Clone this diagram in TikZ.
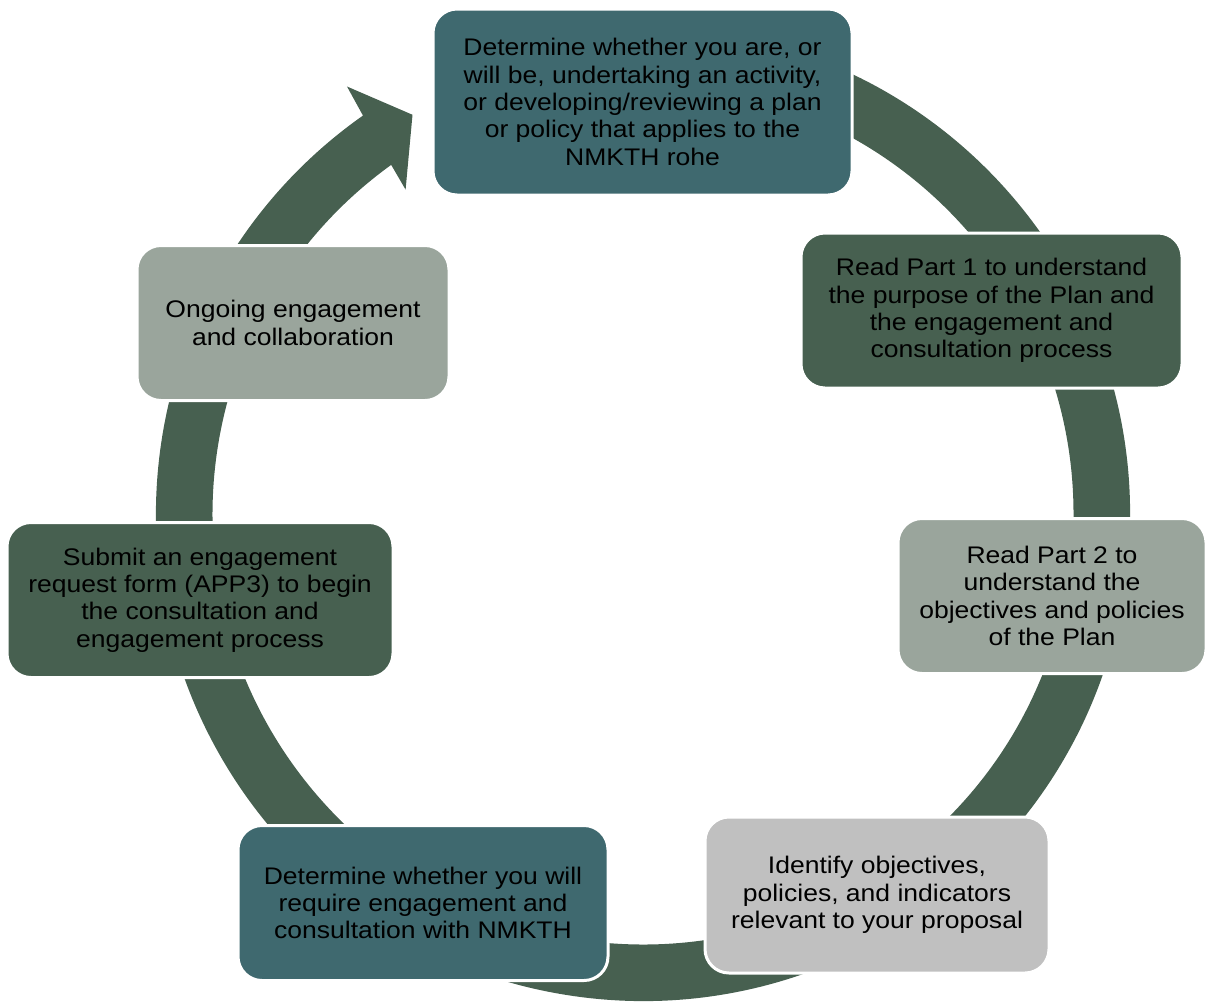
\documentclass[tikz,border=0pt]{standalone}
\usepackage{fontspec}
\setmainfont{Liberation Sans}[FakeStretch=1.105]
\usepackage{xcolor}
\usepackage{tikz}
\usetikzlibrary{positioning}
\definecolor{tealEscuro}{RGB}{63,105,111}
\definecolor{verdeEscuro}{RGB}{71,96,80}
\definecolor{cinzaVerde}{RGB}{154,165,156}
\definecolor{cinzaClaro}{RGB}{192,192,192}
\tikzset{
    bloco/.style={
        rectangle,
        draw=white,
        line width=3pt,
        rounded corners=24pt,
        align=center,
        inner sep=0pt,
        text=black,
        font=\fontsize{24}{27.3}\selectfont
    },
    passoTeal/.style={bloco, fill=tealEscuro},
    passoVerde/.style={bloco, fill=verdeEscuro},
    passoCinza/.style={bloco, fill=cinzaVerde},
    passoClaro/.style={bloco, fill=cinzaClaro},
    anel/.style={fill=verdeEscuro}
}

\begin{document}
\begin{tikzpicture}[x=1pt, y=-1pt]
    \useasboundingbox (0,0) rectangle (1205,1005);

    % anel com a seta, atras das etapas
    \begin{scope}[shift={(643,514)}]
        \fill[anel] (-80:487) arc[start angle=-80, end angle=234.9, radius=487]
            -- (235.3:520) -- (240:461) -- (233.8:402) -- (234.2:430.5)
            arc[start angle=234.2, end angle=-80, radius=430.5] -- cycle;
    \end{scope}

    \node[passoTeal, minimum width=419pt, minimum height=186pt] (inicio) at (642.5,102)
        {Determine whether you are, or\\will be, undertaking an activity,\\or developing/reviewing a plan\\or policy that applies to the\\NMKTH rohe};
    \node[passoVerde, minimum width=381pt, minimum height=155pt] (parte1) at (991.5,310.5)
        {Read Part 1 to understand\\the purpose of the Plan and\\the engagement and\\consultation process};
    \node[passoCinza, minimum width=308pt, minimum height=155pt] (parte2) at (1052,596)
        {Read Part 2 to\\understand the\\objectives and policies\\of the Plan};
    \node[passoClaro, minimum width=344pt, minimum height=156pt] (identificar) at (877,895)
        {Identify objectives,\\policies, and indicators\\relevant to your proposal};
    \node[passoTeal, minimum width=370pt, minimum height=155pt] (determinar) at (423,903)
        {Determine whether you will\\require engagement and\\consultation with NMKTH};
    \node[passoVerde, minimum width=386pt, minimum height=155pt] (submeter) at (200,600)
        {Submit an engagement\\request form (APP3) to begin\\the consultation and\\engagement process};
    \node[passoCinza, minimum width=312pt, minimum height=155pt] (continuo) at (293,323)
        {Ongoing engagement\\and collaboration};
\end{tikzpicture}
\end{document}
